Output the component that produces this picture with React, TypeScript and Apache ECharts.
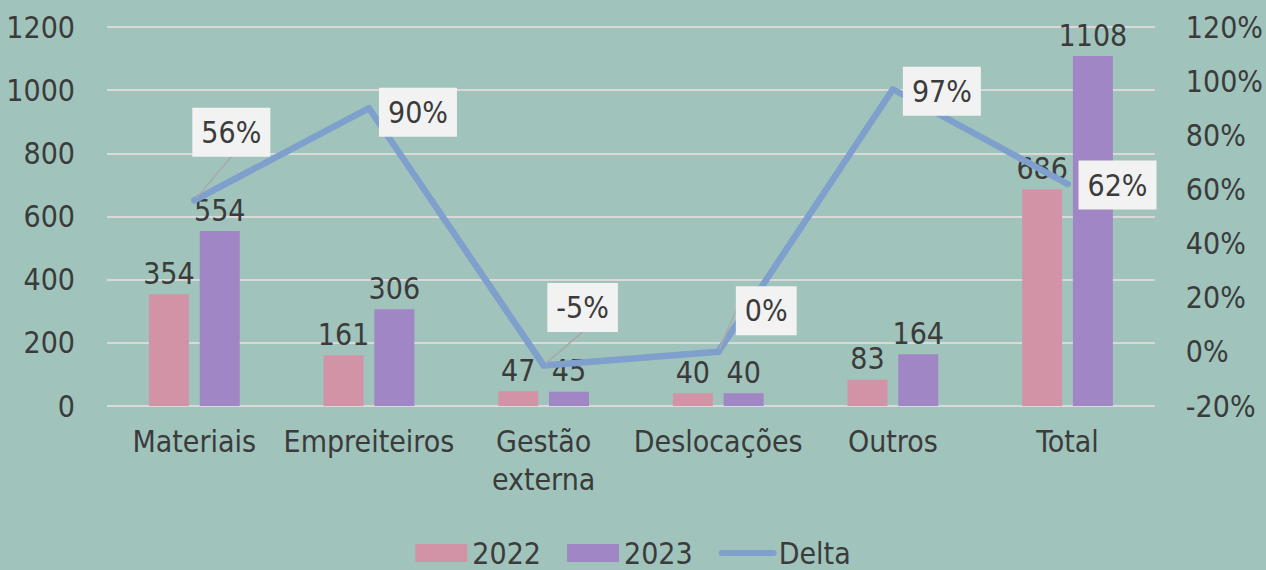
import React, { useEffect, useRef } from "react";
import * as echarts from "echarts";

const categories = ["Materiais", "Empreiteiros", "Gestão\nexterna", "Deslocações", "Outros", "Total"];
const values2022 = [354, 161, 47, 40, 83, 686];
const values2023 = [554, 306, 45, 40, 164, 1108];
const deltaPct = [56, 90, -5, 0, 97, 62];
const deltaLabelOffsets = [[37, -68], [49, 4], [39, -58], [48, -41], [49, 2], [50, 1]];
const deltaShowLeader = [true, false, true, true, false, false];

const FONT = "'DejaVu Sans Condensed', 'Liberation Sans Narrow', sans-serif";
const TXT = "#3b3b3b";
const LINE = "#7f9fcc";

export default function App() {
  const ref = useRef<HTMLDivElement>(null);
  useEffect(() => {
    const chart = echarts.init(ref.current!, null, { renderer: "svg" });
    chart.setOption({
      animation: false,
      backgroundColor: "#a0c4bb",
      textStyle: { fontFamily: FONT },
      grid: { left: 107, right: 103, top: 27, bottom: 164 },
      legend: {
        bottom: -3,
        left: "center",
        itemWidth: 52,
        itemHeight: 18,
        itemGap: 26,
        textStyle: { fontSize: 30, color: TXT, fontFamily: FONT },
        data: [
          { name: "2022", icon: "rect" },
          { name: "2023", icon: "rect" },
          { name: "Delta", itemStyle: { opacity: 0, color: "transparent", borderWidth: 0 }, lineStyle: { width: 6, color: LINE, cap: "round" } },
        ],
      },
      xAxis: {
        type: "category",
        data: categories,
        axisLine: { show: false },
        axisTick: { show: false },
        axisLabel: { fontSize: 30, color: TXT, margin: 16, lineHeight: 38, fontFamily: FONT, interval: 0 },
      },
      yAxis: [
        {
          type: "value",
          min: 0,
          max: 1200,
          interval: 200,
          axisLabel: { fontSize: 30, color: TXT, margin: 32, fontFamily: FONT, formatter: (v: number) => String(v) },
          splitLine: { lineStyle: { color: "#d9d9d9", width: 2 } },
        },
        {
          type: "value",
          min: -20,
          max: 120,
          interval: 20,
          axisLabel: { fontSize: 30, color: TXT, margin: 31, formatter: "{value}%", fontFamily: FONT },
          splitLine: { show: false },
        },
      ],
      series: [
        {
          name: "2022",
          type: "bar",
          data: values2022,
          barWidth: 40,
          barGap: "27%",
          itemStyle: { color: "#d393a6" },
          label: { show: true, position: "top", distance: 6, fontSize: 30, color: TXT, fontFamily: FONT },
        },
        {
          name: "2023",
          type: "bar",
          data: values2023,
          barWidth: 40,
          itemStyle: { color: "#a086c4" },
          label: { show: true, position: "top", distance: 6, fontSize: 30, color: TXT, fontFamily: FONT },
        },
        {
          name: "Delta",
          type: "line",
          yAxisIndex: 1,
          data: deltaPct.map((v, i) => ({ value: v, labelLine: { show: deltaShowLeader[i] } })),
          symbol: "circle",
          symbolSize: 6,
          itemStyle: { color: LINE },
          lineStyle: { color: LINE, width: 6.5, cap: "round", join: "round" },
          label: {
            show: true,
            position: "inside",
            formatter: "{c}%",
            fontSize: 30,
            color: TXT,
            fontFamily: FONT,
            backgroundColor: "#f2f2f2",
            padding: [11, 9, 8, 9],
          },
          labelLine: { show: true, lineStyle: { color: "#a9a9a9", width: 1.5 } },
          labelLayout: (p: any) => ({ dx: deltaLabelOffsets[p.dataIndex][0], dy: deltaLabelOffsets[p.dataIndex][1] }),
        },
      ],
    });
    return () => chart.dispose();
  }, []);
  return <div ref={ref} style={{ position: "fixed", left: 0, top: 0, width: 1266, height: 570 }} />;
}
